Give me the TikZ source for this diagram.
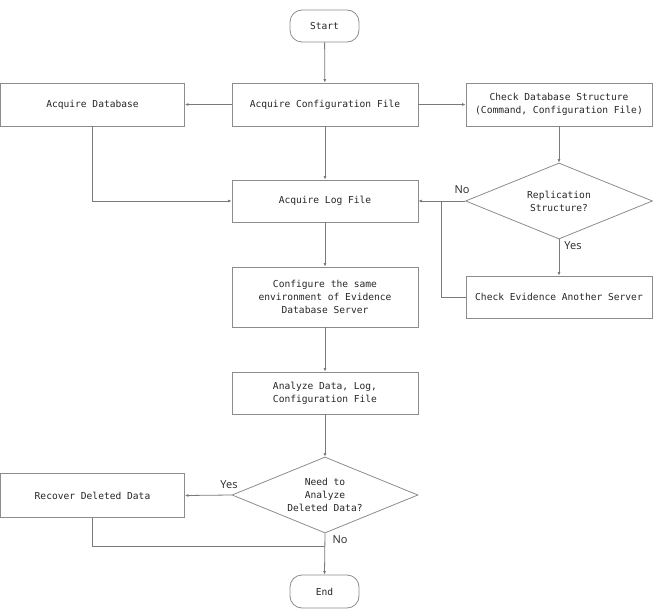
\documentclass[tikz,border=0pt]{standalone}
\usepackage{fontspec}
\setmonofont{DejaVu Sans Mono}
\setsansfont{Open Sans}
\usetikzlibrary{shapes.geometric,arrows.meta}

\definecolor{edgegray}{HTML}{8C8C8C}
\definecolor{linegray}{HTML}{7A7A7A}
\definecolor{inkgray}{HTML}{262626}

\tikzset{
  box/.style={draw=edgegray,line width=0.8pt,rectangle,minimum width=186pt,
    minimum height=43pt,align=center,inner sep=2pt,text=inkgray,
    font=\ttfamily\fontsize{9.6}{13}\selectfont},
  decision/.style={box,diamond,aspect=2.45,minimum width=187pt,minimum height=76pt,inner sep=0pt},
  terminal/.style={box,rounded corners=12pt,minimum width=69pt,minimum height=32pt},
  flow/.style={draw=linegray,line width=0.8pt,-{Latex[length=3.5pt,width=3pt]}},
  plain/.style={draw=linegray,line width=0.8pt},
  answer/.style={text=inkgray,font=\sffamily\fontsize{11}{13}\selectfont,inner sep=1pt}
}

\begin{document}
\begin{tikzpicture}[x=1pt,y=-1pt]
	\useasboundingbox (0,0) rectangle (659,613);

	% nodes
	\node[terminal] (start) at (324.5,26) {Start};
	\node[box] (config) at (325,104.5) {Acquire Configuration File};
	\node[box,minimum width=184pt] (database) at (92.5,104.5) {Acquire Database};
	\node[box] (structure) at (559,104.5) {Check Database Structure\\(Command, Configuration File)};
	\node[box,minimum height=42pt] (logfile) at (325,201) {Acquire Log File};
	\node[decision] (replication) at (559,201) {Replication\\Structure?};
	\node[box,minimum height=42pt] (evidence) at (559,297) {Check Evidence Another Server};
	\node[box,minimum height=60pt] (environment) at (325,297) {Configure the same\\environment of Evidence\\Database Server};
	\node[box,minimum height=42pt] (analyze) at (325,393) {Analyze Data, Log,\\Configuration File};
	\node[decision,minimum width=186pt] (needdeleted) at (325,495) {Need to\\Analyze\\Deleted Data?};
	\node[box,minimum width=184pt,minimum height=44pt] (recover) at (92.5,495.5) {Recover Deleted Data};
	\node[terminal,minimum height=33pt] (end) at (324.5,591.5) {End};

	\coordinate (join) at (441,201);
	\coordinate (merge) at (325,546.5);

	% connectors
	\draw[flow] (start) -- (config);
	\draw[flow] (config) -- (database);
	\draw[flow] (config) -- (structure);
	\draw[flow] (config) -- (logfile);
	\draw[flow] (database.south) |- (logfile.west);
	\draw[flow] (structure) -- (replication.north);
	\draw[flow] (replication.west) -- (logfile.east);
	\draw[flow] (replication.south) -- (evidence.north);
	\draw[plain] (evidence.west) -| (join);
	\draw[flow] (logfile) -- (environment);
	\draw[flow] (environment) -- (analyze);
	\draw[flow] (analyze) -- (needdeleted.north);
	\draw[flow] (needdeleted.west) -- (recover.east);
	\draw[plain] (recover.south) |- (merge);
	\draw[flow] (needdeleted.south) -- (end.north);

	% answers
	\node[answer] (repno) at (462,190) {No};
	\node[answer] (repyes) at (573,246) {Yes};
	\node[answer] (delyes) at (229,485) {Yes};
	\node[answer] (delno) at (340,540) {No};
\end{tikzpicture}
\end{document}
